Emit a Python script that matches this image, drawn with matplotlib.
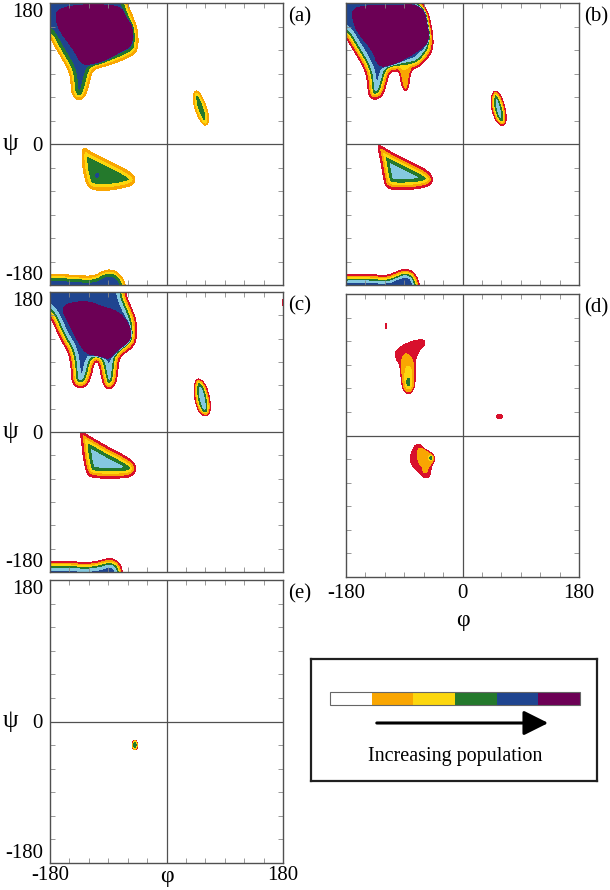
import matplotlib
matplotlib.use('Agg')
import matplotlib.pyplot as plt
from matplotlib.path import Path
import numpy as np

plt.rcParams['font.family'] = ['Liberation Serif', 'DejaVu Serif']

RED = '#d8102c'
ORANGE = '#f9a602'
YELLOW = '#fcd70e'
GREEN = '#24792c'
LBLUE = '#84c8e0'
BLUE = '#1f4590'
PURPLE = '#6c0055'
GREY = '#505050'

# contour levels and their colours
lev7 = [0.05, 0.12, 0.22, 0.35, 0.5, 0.65, 0.8]
col7 = [RED, ORANGE, YELLOW, GREEN, LBLUE, BLUE, PURPLE]
lev5 = [0.05, 0.14, 0.28, 0.55, 0.8]
col5 = [ORANGE, YELLOW, GREEN, BLUE, PURPLE]

# outlines of the populated basins (phi, psi),
# with the population reached inside, the value on the outline and the softness of the edge
a_beta = [(-200, 200), (-62, 200), (-61, 180), (-52, 162.6), (-44, 143.4), (-44, 121),
          (-53.8, 112), (-87.3, 100.9), (-107.9, 96.6), (-115.6, 92.3), (-120.8, 73.2),
          (-126, 60.4), (-136.2, 55), (-146, 62.6), (-147.5, 77.5), (-150, 92.3),
          (-160, 107.2), (-172.3, 124.3), (-180, 137), (-200, 150)]
a_beta_core = [(-169, 175), (-71, 177), (-63, 160), (-52.5, 151), (-52.5, 127), (-71, 118.5),
               (-102.8, 103.5), (-130, 101.5), (-140.5, 120), (-169, 150.5)]
a_alphaR = [(-129.5, -3.4), (-131, -20.4), (-126, -46), (-118.2, -58.7), (-87.3, -59.5),
            (-51.3, -53), (-47.5, -43.8), (-56.4, -35.3), (-87.3, -22.5), (-118.2, -9.8)]
a_alphaR_dot = [(-110, -37), (-105, -37), (-105, -43), (-110, -43)]
a_alphaL = [(45, 69), (52, 65), (59, 53), (65, 38), (65, 27), (60, 23), (53, 28), (45, 42),
            (42, 52), (41, 62)]
a_bottom = [(-200, -200), (-200, -168), (-170, -166), (-140, -168), (-112, -169), (-100, -163),
            (-88, -160), (-74, -164), (-63, -178), (-60, -200)]
a_shapes = [a_beta, a_beta_core, a_alphaR, a_alphaR_dot, a_alphaL, a_bottom]
a_plateau = [0.7, 1.5, 0.5, 0.2, 0.4, 0.75]
a_edge = [0.05, 0.4, 0.05, 0.05, 0.05, 0.05]
a_soft = [3, 1.0, 3.5, 1, 2, 2.5]

b_beta = [(-200, 200), (-63, 200), (-63.1, 181.7), (-52.8, 166.8), (-46.1, 141.3), (-45.1, 124.3),
          (-50.2, 113.6), (-65.7, 98.7), (-80, 95), (-100, 93), (-112.1, 92.3), (-116.2, 81.7),
          (-122.4, 62.6), (-133.7, 56.2), (-144, 59.6), (-146.6, 73.2), (-148.1, 88.1),
          (-155.8, 103), (-168.7, 120), (-180.5, 137), (-200, 150)]
b_beta_core = [(-168, 175), (-96.6, 175), (-81, 177), (-59, 172.5), (-54, 150), (-51.3, 137),
               (-57, 127), (-81, 114.3), (-107, 101.5), (-129, 99.4), (-137, 120), (-160, 142),
               (-168, 158.3)]
b_tail = [(-79, 100), (-81.1, 86), (-83.7, 71.1), (-87.3, 67.5), (-92.5, 71.1), (-96.6, 86),
          (-97, 100)]
b_alphaR = [(-131.6, -2.1), (-127.5, -16.2), (-122.4, -41.7), (-118.2, -56.6), (-96.6, -58.7),
            (-60.6, -56.6), (-46.6, -50.2), (-46.1, -41.7), (-55.4, -33.2), (-81.1, -22.5),
            (-112.1, -9.8), (-124.9, -2.5)]
b_alphaL = [(49.5, 69.5), (58.5, 63.5), (65.5, 47.7), (68.5, 30.6), (63, 22), (52.5, 27.5),
            (45, 43.4), (43.5, 58.3)]
b_bottom = [(-200, -200), (-200, -167), (-148, -166), (-117, -168.5), (-102, -163), (-87, -158.7),
            (-73, -165), (-66, -180), (-64, -200)]
b_shapes = [b_beta, b_beta_core, b_tail, b_alphaR, b_alphaL, b_bottom]
b_plateau = [0.7, 1.5, 0.16, 0.6, 0.6, 0.75]
b_edge = [0.05, 0.4, 0.05, 0.05, 0.05, 0.05]
b_soft = [3, 1.0, 1.5, 3.5, 2, 2.5]

c_beta = [(-200, 200), (-64, 200), (-64.1, 178.3), (-53.8, 159), (-46.1, 141.9), (-46.1, 118.3),
          (-53.8, 107.6), (-71.9, 96.9), (-74.4, 86.1), (-77, 64.7), (-84.7, 55.3), (-95, 56.1),
          (-100.2, 69), (-103.8, 86.1), (-107.9, 91.3), (-113.1, 86.1), (-115.6, 73.3),
          (-123.4, 58.3), (-137.8, 56.1), (-146.5, 64.7), (-147.6, 86.1), (-151.7, 103.3),
          (-164.6, 120.4), (-180, 150.4), (-200, 160)]
c_beta_core = [(-156, 163), (-123.4, 167), (-102.8, 160.5), (-77, 154), (-63, 143), (-55, 129),
               (-57.5, 117), (-76, 106), (-87.3, 95.4), (-103, 97.5), (-124, 101.8),
               (-140.3, 124.7), (-153.2, 146.1), (-158.5, 155)]
c_corner = [(178.5, 170), (182, 170), (182, 162), (178.5, 162)]
c_alphaR = [(-133.6, 0.4), (-131.1, -12.4), (-128.5, -33.9), (-123.4, -53.2), (-115.6, -58.7),
            (-87.3, -59.6), (-56.4, -58.7), (-47.1, -51), (-48.7, -40.3), (-61.6, -31.7),
            (-87.3, -21), (-118.2, -6), (-128.5, -0.9)]
c_alphaL = [(50, 69.5), (60.5, 61.5), (67, 43.3), (68.5, 28.3), (63, 19.5), (51.5, 23),
            (44, 39), (42.5, 56.1), (44.5, 65.5)]
c_bottom = [(-200, -200), (-200, -166.7), (-154.3, -165.9), (-128.5, -168), (-107.9, -166.7),
            (-95, -163.3), (-84.7, -162.5), (-74.4, -166.7), (-67.7, -177.5), (-66, -200)]
c_shapes = [c_beta, c_beta_core, c_corner, c_alphaR, c_alphaL, c_bottom]
c_plateau = [0.7, 1.5, 0.08, 0.6, 0.6, 0.7]
c_edge = [0.05, 0.4, 0.05, 0.05, 0.05, 0.05]
c_soft = [3, 1.0, 0.5, 3.5, 2, 2.5]

d_dot = [(-119.5, 142), (-117, 142), (-117, 135.5), (-119.5, 135.5)]
d_upper = [(-104.3, 102.6), (-101.8, 109), (-91.4, 115.4), (-70.9, 121.8), (-58, 121.8),
           (-58, 115.4), (-68.3, 106.8), (-73.4, 94.1), (-73.4, 68.6), (-77, 55.9), (-83.7, 52.5),
           (-91.4, 56.7), (-94, 72.9), (-96.6, 89.9), (-101.8, 96.3)]
d_upper_orange = [(-88.5, 106), (-77, 98), (-73.5, 81.4), (-74.5, 61), (-82.2, 54.5),
                  (-91.5, 58.5), (-95.5, 77.1), (-94.5, 96)]
d_upper_yellow = [(-89, 88), (-79, 88), (-77.5, 64), (-82, 58), (-89, 61)]
d_upper_green = [(-86, 73), (-81.5, 73), (-81.5, 63), (-86, 63)]
d_right = [(52, 22), (53, 26), (57, 27.5), (61, 26), (62, 22)]
d_lower = [(-73.4, -12.1), (-65.7, -10.8), (-58, -18.5), (-45.1, -24.8), (-42.5, -31.2),
           (-47.7, -37.6), (-50.2, -52.5), (-58, -54.6), (-63.1, -50.3), (-70.9, -44),
           (-78.6, -37.6), (-81.1, -29.1), (-78.6, -20.6)]
d_lower_orange = [(-67, -14.5), (-52.8, -19), (-43.5, -26), (-44.5, -34), (-52, -39),
                  (-55.5, -47.5), (-60.5, -47.5), (-62.5, -39), (-68.5, -34), (-70, -22.7)]
d_lower_core = [(-52, -25), (-46.5, -25), (-46.5, -32), (-52, -32)]
d_shapes = [d_dot, d_upper, d_upper_orange, d_upper_yellow, d_upper_green, d_right,
            d_lower, d_lower_orange, d_lower_core]
d_plateau = [0.1, 0.1, 0.07, 0.1, 0.12, 0.1, 0.1, 0.08, 0.35]
d_edge = [0.05, 0.05, 0.02, 0.05, 0.08, 0.05, 0.05, 0.02, 0.04]
d_soft = [0.6, 1.2, 1.0, 1.0, 0.6, 0.8, 1, 1, 0.8]

e_dot = [(-52.5, -24), (-45, -24), (-45, -36), (-52.5, -36)]
e_core = [(-50.5, -27), (-47, -27), (-47, -33), (-50.5, -33)]
e_shapes = [e_dot, e_core]
e_plateau = [0.3, 0.15]
e_edge = [0.05, 0.05]
e_soft = [0.4, 0.3]

legend_colors = ['white', ORANGE, YELLOW, GREEN, BLUE, PURPLE]

grid = np.linspace(-180, 180, 481)
PHI, PSI = np.meshgrid(grid, grid)


def chaikin(poly, n=2):
    p = np.array(poly, dtype=float)
    for _ in range(n):
        q = np.roll(p, -1, axis=0)
        p = np.stack([0.75*p + 0.25*q, 0.25*p + 0.75*q], axis=1).reshape(-1, 2)
    return p


def signed_dist(poly, margin=40):
    p = chaikin(poly)
    x0, y0 = p.min(axis=0) - margin
    x1, y1 = p.max(axis=0) + margin
    ix = (grid >= x0) & (grid <= x1)
    iy = (grid >= y0) & (grid <= y1)
    X, Y = np.meshgrid(grid[ix], grid[iy])
    d = np.full(X.shape, np.inf)
    for i in range(len(p)):
        ax_, ay_ = p[i]
        bx_, by_ = p[(i + 1) % len(p)]
        ex, ey = bx_ - ax_, by_ - ay_
        t = np.clip(((X - ax_)*ex + (Y - ay_)*ey) / (ex*ex + ey*ey), 0, 1)
        d = np.minimum(d, np.hypot(X - ax_ - t*ex, Y - ay_ - t*ey))
    inside = Path(p).contains_points(np.column_stack([X.ravel(), Y.ravel()])).reshape(X.shape)
    out = np.full(PHI.shape, float(margin))
    out[np.ix_(iy, ix)] = np.where(inside, -d, d)
    return out


def population(shapes, plateau, edge, soft):
    z = np.zeros_like(PHI)
    for poly, w, e, s in zip(shapes, plateau, edge, soft):
        d0 = -s * np.log(w / e - 1)
        z += w / (1 + np.exp(np.clip((signed_dist(poly) - d0) / s, -50, 50)))
    return z


fig = plt.figure(figsize=(6.1, 8.9), dpi=100)


def px_axes(x0, y0, x1, y1):
    return fig.add_axes([x0/610, 1 - y1/890, (x1 - x0)/610, (y1 - y0)/890])


ticks = np.arange(-180, 181, 30)


def rama(ax, z, levels, colors, ylab, xlab):
    ax.contourf(PHI, PSI, z, levels=levels + [1e6], colors=colors)
    ax.axhline(0, color=GREY, lw=0.9)
    ax.axvline(0, color=GREY, lw=0.9)
    ax.set_xlim(-180, 180)
    ax.set_ylim(-180, 180)
    ax.set_xticks(ticks)
    ax.set_yticks(ticks)
    lab = ['' if t not in (-180, 0, 180) else str(t) for t in ticks]
    ax.set_yticklabels(lab if ylab else [])
    ax.set_xticklabels(lab if xlab else [])
    ax.tick_params(direction='in', length=3.5, width=0.6, color='#888888',
                   top=True, right=True, labelsize=15, pad=5)
    if ylab:
        yl = ax.get_yticklabels()
        yl[0].set_va('bottom')
        yl[-1].set_va('top')
    for s in ax.spines.values():
        s.set_color(GREY)
        s.set_linewidth(1.0)


axa = px_axes(50, 3, 283, 285)
rama(axa, population(a_shapes, a_plateau, a_edge, a_soft), lev5, col5, True, False)
axb = px_axes(346, 3, 579, 285)
rama(axb, population(b_shapes, b_plateau, b_edge, b_soft), lev7, col7, False, False)
axc = px_axes(50, 292, 283, 572)
rama(axc, population(c_shapes, c_plateau, c_edge, c_soft), lev7, col7, True, False)
axd = px_axes(346, 294, 579, 577)
rama(axd, population(d_shapes, d_plateau, d_edge, d_soft), lev7, col7, False, True)
axe = px_axes(50, 580, 283, 863)
rama(axe, population(e_shapes, e_plateau, e_edge, e_soft), lev7, col7, True, False)
axe.set_xticklabels(['-180'] + [''] * 11 + ['180'])
axe.tick_params(axis='x', pad=2)

for ax, name in zip([axa, axb, axc, axd, axe], ['(a)', '(b)', '(c)', '(d)', '(e)']):
    ax.text(1.02, 0.985, name, transform=ax.transAxes, fontsize=15, va='top', ha='left')

for ax in [axa, axc, axe]:
    ax.text(-0.17, 0.5, 'ψ', transform=ax.transAxes, fontsize=18, va='center', ha='center')

axd.text(0.5, -0.115, 'φ', transform=axd.transAxes, fontsize=17, va='top', ha='center')
axe.text(0.5, -0.012, 'φ', transform=axe.transAxes, fontsize=17, va='top', ha='center')

# legend box
leg = px_axes(311, 659, 597, 781)
leg.set_xlim(0, 286)
leg.set_ylim(122, 0)
leg.set_xticks([])
leg.set_yticks([])
for s in leg.spines.values():
    s.set_linewidth(1.6)
    s.set_color('#202020')
seg = 250 / len(legend_colors)
leg.barh(39.5, [seg] * len(legend_colors), left=19 + seg*np.arange(len(legend_colors)),
         height=13, color=legend_colors, edgecolor='none')
leg.add_patch(plt.Rectangle((19, 33), 250, 13, fill=False, edgecolor='#666666', lw=0.8))
leg.annotate('', xy=(240, 64), xytext=(63, 64),
             arrowprops=dict(arrowstyle='-|>,head_length=1.5,head_width=0.75', color='black', lw=2.2))
leg.text(144, 98, 'Increasing population', fontsize=14.5, ha='center', va='center')

fig.savefig('out.png', dpi=100)
